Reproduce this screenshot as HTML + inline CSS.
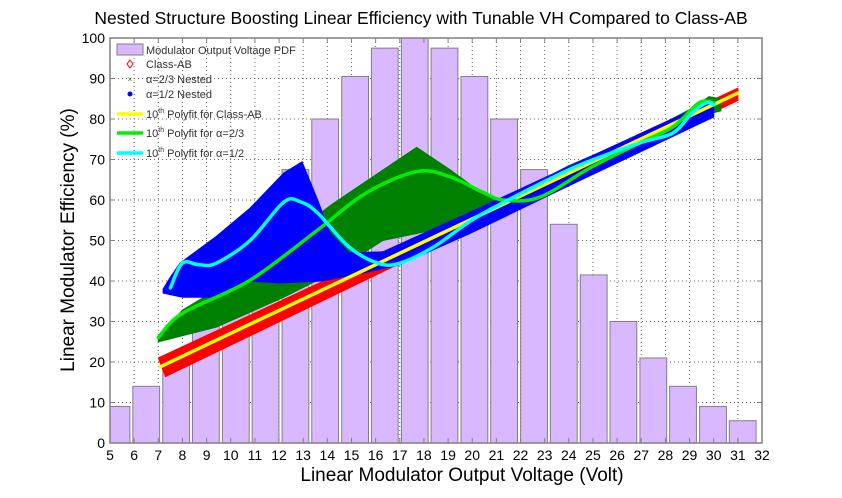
<!DOCTYPE html>
<html><head><meta charset="utf-8"><style>
html,body{margin:0;padding:0;background:#fff;}
svg{display:block;font-family:"Liberation Sans",Arial,sans-serif;}
</style></head><body>
<svg id="chart" width="842" height="498" viewBox="0 0 842 498">
<text x="421" y="24" text-anchor="middle" font-size="17.5" fill="#000">Nested Structure Boosting Linear Efficiency with Tunable VH Compared to Class-AB</text>
<text x="462" y="481" text-anchor="middle" font-size="19" fill="#000">Linear Modulator Output Voltage (Volt)</text>
<text transform="translate(74,240) rotate(-90)" text-anchor="middle" font-size="19" fill="#000">Linear Modulator Efficiency  (%)</text>
<g id="plot"></g>
<g id="legend"></g>
</svg>
<script>
// ---- data ----
const xTicks=[5,6,7,8,9,10,11,12,13,14,15,16,17,18,19,20,21,22,23,24,25,26,27,28,29,30,31,32];
const yTicks=[0,10,20,30,40,50,60,70,80,90,100];
const pdfCenters=[5.27,6.5,7.74,8.97,10.21,11.44,12.68,13.91,15.15,16.38,17.62,18.85,20.09,21.32,22.56,23.79,25.03,26.26,27.5,28.73,29.97,31.2];
const pdfValues=[9,14,21,30,41.5,54,67.5,80,90.5,97.5,100,97.5,90.5,80,67.5,54,41.5,30,21,14,9,5.5];
const abUpper=[[7,21],[31,87.6]];
const abLower=[[31,84.6],[7.3,16.4]];
const g23Upper=[[7,26],[8,32.8],[10,40],[12.2,50],[14.2,59],[16.3,67.4],[17.7,73],[19.1,67.4],[20.4,61.7],[21.3,60],[24,68.5],[27,76],[29.2,83],[29.8,85.5],[30.3,85]];
const g23Lower=[[30.3,82],[29,80],[27,74.5],[24,67],[21.3,58],[20.4,55.8],[18.4,52.6],[16.3,50],[14.2,42],[12.2,36],[9.4,28.6],[7,25]];
const g12Upper=[[7.2,38],[7.5,41],[7.9,44.4],[9.4,51],[10.8,58],[12.2,66.7],[12.95,69.4],[13.6,60],[14.1,52],[14.9,47],[16.3,47.2],[20,57.2],[24,68.3],[27,76.5],[29,82],[30,84.5]];
const g12Lower=[[30,80.5],[27,72],[24,63.5],[20,52],[17,44],[15.5,42],[13.8,40],[12,39.5],[10.8,40],[9.4,36],[8,36],[7.2,37]];
const fitABx=[7.07,31];
const fitABy=[18.8,86.4];
const fit23x=[7,8,10.8,13.6,15.6,17.7,19.1,20.4,21.3,22.8,24.9,26.9,28.3,29.4,30];
const fit23y=[26,32,40.2,52.6,61.7,67,65.7,62,60,60.7,68,74,78,84,84];
const fit12x=[7.5,8,8.7,9.4,10.8,12.2,12.9,13.6,14.9,16.1,17,18.4,19.8,21.1,24.2,26.9,28.3,29.1,29.7,30];
const fit12y=[38.3,44.4,44,44.4,50,59.5,59.5,56.8,48.4,44.4,44.4,48.4,54.3,58.8,68,74,76.5,81.5,84,83.5];
const legendLabels=["Modulator Output Voltage PDF","Class-AB","\u03b1=2/3 Nested","\u03b1=1/2 Nested","Polyfit for Class-AB","Polyfit for \u03b1=2/3","Polyfit for \u03b1=1/2"];

// ---- scales ----
const X0=110,X1=762,Y0=443,Y1=38,xMin=5,xMax=32,yMin=0,yMax=100;
const sx=v=>X0+(v-xMin)/(xMax-xMin)*(X1-X0);
const sy=v=>Y0-(v-yMin)/(yMax-yMin)*(Y0-Y1);
const NS="http://www.w3.org/2000/svg";
const plot=document.getElementById('plot');
function mk(tag,attrs,parent){const e=document.createElementNS(NS,tag);for(const k in attrs)e.setAttribute(k,attrs[k]);(parent||plot).appendChild(e);return e;}
const pts=a=>a.map(p=>sx(p[0]).toFixed(1)+','+sy(p[1]).toFixed(1)).join(' ');

const bg=mk('rect',{x:X0,y:Y1,width:X1-X0,height:Y0-Y1,fill:'#fff'});


xTicks.forEach(t=>{const l=mk('line',{x1:sx(t),x2:sx(t),y1:Y1,y2:Y0,stroke:'#666','stroke-dasharray':'1,3','stroke-width':1});

});
yTicks.forEach(t=>{const l=mk('line',{x1:X0,x2:X1,y1:sy(t),y2:sy(t),stroke:'#666','stroke-dasharray':'1,3','stroke-width':1});

});

const bw=1.11;
pdfCenters.forEach((c,i)=>{
  const l=Math.max(xMin,c-bw/2),r=Math.min(xMax,c+bw/2);
  const b=mk('rect',{x:sx(l),y:sy(pdfValues[i]),width:sx(r)-sx(l),height:sy(0)-sy(pdfValues[i]),fill:'#d9b8ff',stroke:'#808080','stroke-width':1});
  
  
});

const red=mk('polygon',{points:pts(abUpper.concat(abLower)),fill:'#ff0000',stroke:'#ff0000','stroke-width':1});


const grn=mk('polygon',{points:pts(g23Upper.concat(g23Lower)),fill:'#008000',stroke:'#008000','stroke-width':1});


const blu=mk('polygon',{points:pts(g12Upper.concat(g12Lower)),fill:'#0000ff',stroke:'#0000ff','stroke-width':1});



// smooth fit lines (Catmull-Rom)
function smooth(xs,ys){
  const P=xs.map((x,i)=>[sx(x),sy(ys[i])]);
  let d='M'+P[0][0].toFixed(1)+','+P[0][1].toFixed(1);
  for(let i=0;i<P.length-1;i++){
    const p0=P[Math.max(0,i-1)],p1=P[i],p2=P[i+1],p3=P[Math.min(P.length-1,i+2)];
    const c1=[p1[0]+(p2[0]-p0[0])/6,p1[1]+(p2[1]-p0[1])/6];
    const c2=[p2[0]-(p3[0]-p1[0])/6,p2[1]-(p3[1]-p1[1])/6];
    d+=' C'+c1[0].toFixed(1)+','+c1[1].toFixed(1)+' '+c2[0].toFixed(1)+','+c2[1].toFixed(1)+' '+p2[0].toFixed(1)+','+p2[1].toFixed(1);
  }
  return d;
}
function line(xs,ys,col,name){const p=mk('path',{d:smooth(xs,ys),fill:'none',stroke:col,'stroke-width':3.5,'stroke-linejoin':'round','stroke-linecap':'round'});

}
line(fitABx,fitABy,'#ffff00','polyfit-class-ab');
line(fit23x,fit23y,'#00ee00','polyfit-alpha-2-3');
line(fit12x,fit12y,'#00ffff','polyfit-alpha-1-2');

const box=mk('rect',{x:X0,y:Y1,width:X1-X0,height:Y0-Y1,fill:'none',stroke:'#808080','stroke-width':1.5});


xTicks.forEach(t=>{
  mk('line',{x1:sx(t),x2:sx(t),y1:Y0,y2:Y0-5,stroke:'#808080'});
  mk('line',{x1:sx(t),x2:sx(t),y1:Y1,y2:Y1+5,stroke:'#808080'});
  const tx=mk('text',{x:sx(t),y:Y0+17,'text-anchor':'middle','font-size':14,fill:'#000'});
  tx.textContent=t;
  
  
});
yTicks.forEach(t=>{
  mk('line',{x1:X0,x2:X0+5,y1:sy(t),y2:sy(t),stroke:'#808080'});
  mk('line',{x1:X1,x2:X1-5,y1:sy(t),y2:sy(t),stroke:'#808080'});
  const tx=mk('text',{x:X0-5,y:sy(t)+5,'text-anchor':'end','font-size':14,fill:'#000'});
  tx.textContent=t;
  
  
});

const lg=document.getElementById('legend');
const ly=[50,64,79,94,114,133,153];
legendLabels.forEach((lab,i)=>{
  const y=ly[i];
  if(i===0){mk('rect',{x:117,y:y-6,width:26,height:11,fill:'#d9b8ff',stroke:'#808080'},lg);}
  else if(i===1){mk('path',{d:`M130,${y-4} l3,4 l-3,4 l-3,-4 z`,fill:'none',stroke:'#ff0000'},lg);}
  else if(i===2){mk('text',{x:130,y:y+3,'text-anchor':'middle','font-size':8,fill:'#008000'},lg).textContent='×';}
  else if(i===3){mk('circle',{cx:130,cy:y,r:2.5,fill:'#0000ff'},lg);}
  else{const c=['#ffff00','#00ee00','#00ffff'][i-4];mk('line',{x1:117,x2:143,y1:y,y2:y,stroke:c,'stroke-width':3.5},lg);}
  const t=mk('text',{x:146,y:y+4,'font-size':11,fill:'#333'},lg);
  if(i>=4){t.innerHTML='10<tspan font-size="7" dy="-5">th</tspan><tspan dy="5"> '+lab+'</tspan>';}
  else t.textContent=lab;
  
  
});
</script>
</body></html>
